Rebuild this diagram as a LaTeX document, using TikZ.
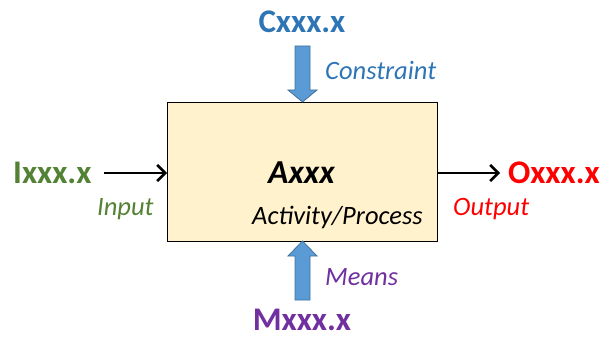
\documentclass[tikz,border=0pt]{standalone}
\usepackage{fontspec}
\setmainfont{Carlito}
\definecolor{cblue}{HTML}{2E75B6}
\definecolor{afill}{HTML}{5B9BD5}
\definecolor{aedge}{HTML}{41719C}
\definecolor{igreen}{HTML}{548235}
\definecolor{ored}{HTML}{FF0000}
\definecolor{mpurple}{HTML}{7030A0}
\definecolor{boxfill}{HTML}{FFF2CC}
\tikzset{
  big/.style={font=\fontsize{33}{36}\selectfont\bfseries, inner sep=0pt, text depth=0pt},
  lab/.style={font=\fontsize{26.5}{30}\selectfont\itshape, inner sep=0pt},
  blockarrow/.style={fill=afill, draw=aedge, line width=0.8pt, line join=miter},
  thinarrow/.style={draw=black, line width=2.6pt, -{Straight Barb[length=8pt,width=16pt,line width=2.6pt]}},
}
\usetikzlibrary{arrows.meta}
\begin{document}
\begin{tikzpicture}[x=1pt,y=-1pt]
\useasboundingbox (0,0) rectangle (603,337);
% main box
\node[draw=black, line width=1.4pt, fill=boxfill, minimum width=270pt, minimum height=139pt, inner sep=0pt, anchor=north west] (box) at (167,102) {};
\node[font=\fontsize{33.5}{36}\selectfont\bfseries\itshape, inner sep=0pt, anchor=base west] (a) at (268,183) {Axxx};
\node[lab, anchor=base west] (ap) at (252,224) {Activity/Process};
% top constraint
\node[big, text=cblue, anchor=base] (c) at (302,33) {Cxxx.x};
\node[lab, text=cblue, anchor=base west] (cl) at (325,80) {Constraint};
\draw[blockarrow] (295,46) -- (310,46) -- (310,90) -- (317,90) -- (302.5,102) -- (288,90) -- (295,90) -- cycle;
% bottom means
\node[big, text=mpurple, anchor=base] (m) at (302,330) {Mxxx.x};
\node[lab, text=mpurple, anchor=base west] (ml) at (325,285) {Means};
\draw[blockarrow] (295,300) -- (310,300) -- (310,256) -- (317,256) -- (302.5,241) -- (288,256) -- (295,256) -- cycle;
% input
\node[big, text=igreen, anchor=base west] (i) at (13,183) {Ixxx.x};
\node[lab, text=igreen, anchor=base west] (il) at (97,215) {Input};
\coordinate (istart) at (104,173);
\draw[thinarrow] (istart) -- (box.west |- istart);
% output
\node[big, text=ored, anchor=base west] (o) at (508,183) {Oxxx.x};
\node[lab, text=ored, anchor=base west] (ol) at (453,215) {Output};
\coordinate (oend) at (500,173);
\draw[thinarrow] (box.east |- oend) -- (oend);
\end{tikzpicture}
\end{document}
